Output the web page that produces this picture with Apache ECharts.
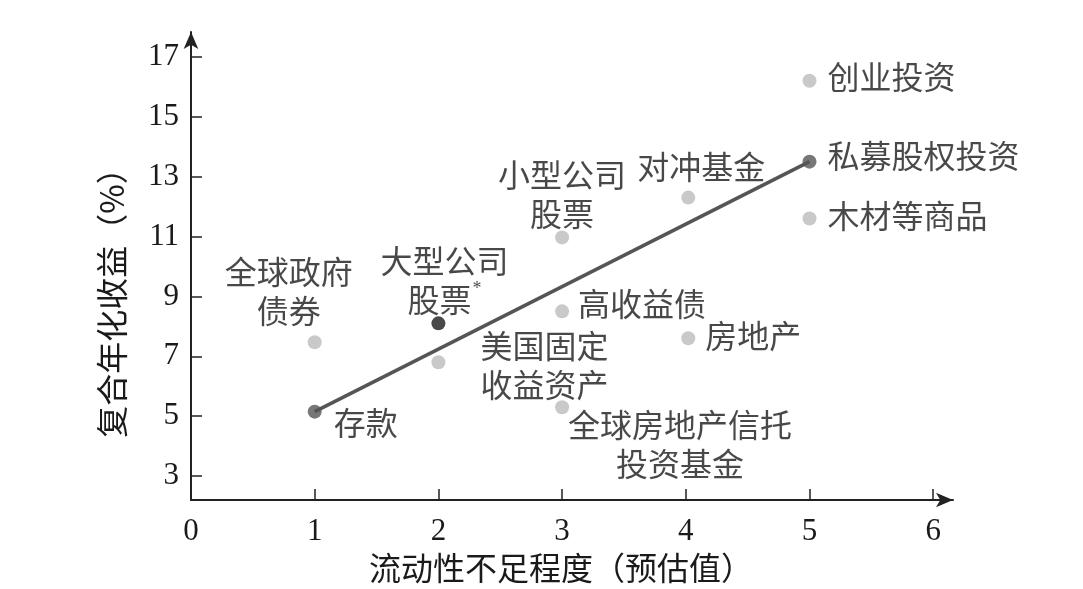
<!DOCTYPE html>
<html>
<head>
<meta charset="utf-8">
<script src="https://cdn.jsdelivr.net/npm/echarts@6/dist/echarts.min.js"></script>
<style>
  html, body { margin: 0; padding: 0; background: #fff; }
  #chart { width: 1083px; height: 589px; }
</style>
</head>
<body>
<div id="chart"></div>
<script>
// 资产名称 / 流动性不足程度 / 复合年化收益(%)
const names = ['存款', '全球政府\n债券', '大型公司\n股票*', '美国固定\n收益资产', '小型公司\n股票',
  '高收益债', '全球房地产信托\n投资基金', '对冲基金', '房地产', '创业投资', '私募股权投资', '木材等商品']
const illiquidity = [1, 1, 2, 2, 3, 3, 3, 4.02, 4.02, 5, 5, 5]
const returns = [5.15, 7.47, 8.1, 6.8, 10.97, 8.5, 5.3, 12.3, 7.6, 16.2, 13.5, 11.6]
const dotKind = ['dark', 'light', 'black', 'light', 'light', 'light', 'light', 'light', 'light', 'light', 'dark', 'light']

// 趋势线两端：存款 → 私募股权投资
const trendX = [1, 5]
const trendY = [5.15, 13.5]

const xTicks = [0, 1, 2, 3, 4, 5, 6]
const yTicks = [3, 5, 7, 9, 11, 13, 15, 17]

// 标签相对圆点中心的偏移 [dx, dy, 对齐]
const labelLayout = {
  '存款': [19, 11, 'left'],
  '全球政府\n债券': [-26, -51, 'center'],
  '大型公司\n股票*': [6, -43, 'center'],
  '美国固定\n收益资产': [42, 3, 'left'],
  '小型公司\n股票': [0, -43, 'center'],
  '高收益债': [16, -8, 'left'],
  '全球房地产信托\n投资基金': [118, 37, 'center'],
  '对冲基金': [13, -31, 'center'],
  '房地产': [17, -2, 'left'],
  '创业投资': [18, -4, 'left'],
  '私募股权投资': [18, -6, 'left'],
  '木材等商品': [18, -3, 'left']
}
const dotColor = { light: '#bcbcbc', dark: '#555555', black: '#1c1c1c' }
const SYM = 14
const CJK = '"Noto Sans CJK SC", sans-serif'
const NUM = '"Liberation Serif", "Noto Sans CJK SC", serif'

const points = names.map((n, i) => {
  const [dx, dy, align] = labelLayout[n]
  const text = n.replace('*', '{sup|*}')
  return {
    name: n,
    value: [illiquidity[i], returns[i]],
    itemStyle: { color: dotColor[dotKind[i]] },
    label: {
      show: true,
      formatter: text,
      position: [dx + SYM / 2, dy + SYM / 2],
      align: align,
      verticalAlign: 'middle'
    }
  }
})

const chart = echarts.init(document.getElementById('chart'))
chart.setOption({
  animation: false,
  grid: { left: 191, right: 130, top: 32, bottom: 88 },
  xAxis: {
    type: 'value', min: 0, max: 6.16,
    name: '流动性不足程度（预估值）',
    nameLocation: 'middle', nameGap: 52,
    nameTextStyle: { fontFamily: CJK, fontSize: 32, color: '#1a1a1a', padding: [0, 22, 0, 0] },
    axisLine: { lineStyle: { color: '#222', width: 2 }, symbol: ['none', 'arrow'], symbolSize: [11, 17] },
    axisTick: { show: true, inside: true, length: 11, lineStyle: { color: '#222', width: 1.5 }, customValues: xTicks.slice(1) },
    axisLabel: { margin: 16, fontFamily: NUM, fontSize: 31, color: '#1a1a1a', customValues: xTicks },
    splitLine: { show: false }
  },
  yAxis: {
    type: 'value', min: 2.2, max: 17.83,
    name: '复合年化收益（%）',
    nameLocation: 'middle', nameGap: 63, nameRotate: 90,
    nameTextStyle: { fontFamily: CJK, fontSize: 32, color: '#1a1a1a', padding: [0, 58, 0, 0] },
    axisLine: { lineStyle: { color: '#222', width: 2 }, symbol: ['none', 'arrow'], symbolSize: [11, 17] },
    axisTick: { show: true, inside: true, length: 11, lineStyle: { color: '#222', width: 1.5 }, customValues: yTicks },
    axisLabel: { margin: 12, fontFamily: NUM, fontSize: 31, color: '#1a1a1a', customValues: yTicks },
    splitLine: { show: false }
  },
  series: [
    {
      type: 'line',
      data: trendX.map((x, i) => [x, trendY[i]]),
      symbol: 'none',
      lineStyle: { color: '#555555', width: 3.5 },
      z: 1
    },
    {
      type: 'scatter',
      symbolSize: SYM,
      data: points,
      label: {
        fontFamily: CJK, fontSize: 32, color: '#1a1a1a', lineHeight: 39,
        rich: { sup: { fontFamily: NUM, fontSize: 18, color: '#1a1a1a', verticalAlign: 'top', padding: [0, 0, 14, 1] } }
      },
      z: 3
    }
  ]
})
</script>
</body>
</html>
